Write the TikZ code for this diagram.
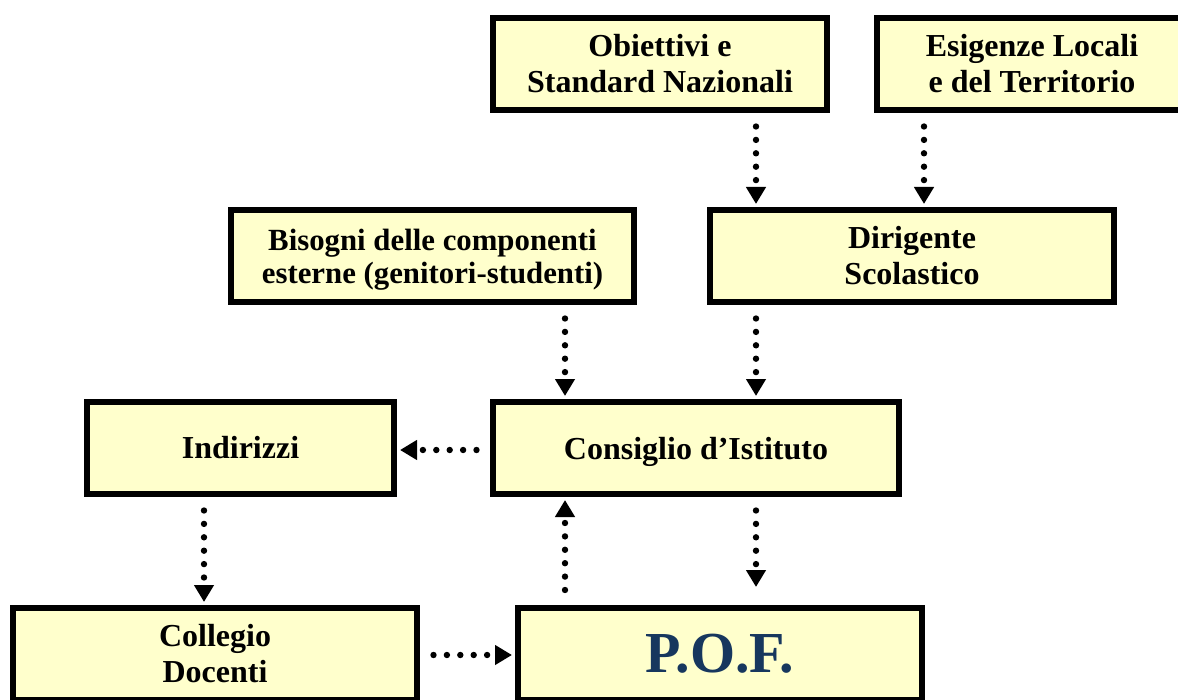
\documentclass[tikz,border=0pt]{standalone}
\usepackage{fontspec}
\setmainfont{Liberation Serif}
\usetikzlibrary{arrows.meta}

\definecolor{boxfill}{RGB}{255,255,204}
\definecolor{pofblue}{RGB}{23,55,94}

\tikzset{
  box/.style={draw, line width=3pt, fill=boxfill, minimum height=46pt,
    align=center, inner sep=2pt, font=\bfseries\fontsize{16}{18}\selectfont},
  flow/.style={line width=3.2pt, line cap=round, dash pattern=on 0pt off 6.7pt,
    -{Triangle[width=9.5pt,length=8.5pt]}, shorten <=6.75pt, shorten >=1.5pt},
}

\begin{document}
\begin{tikzpicture}[x=0.5pt, y=-0.5pt]
  \useasboundingbox (0,0) rectangle (1178,700);
  \clip (0,0) rectangle (1178,700);

  % top row
  \node[box, minimum width=167pt] (obj) at (660,64) {Obiettivi e\\Standard Nazionali};
  \node[box, minimum width=155pt] (esi) at (1032,64) {Esigenze Locali\\e del Territorio};
  % second row
  \node[box, minimum width=201.5pt, text depth=0pt, font=\bfseries\fontsize{15.4}{16.5}\selectfont]
    (bis) at (432.5,256) {Bisogni delle componenti\\esterne (genitori-studenti)};
  \node[box, minimum width=202pt] (dir) at (912,256) {Dirigente\\Scolastico};
  % third row
  \node[box, minimum width=153.5pt] (ind) at (240.5,448) {Indirizzi};
  \node[box, minimum width=203pt, text depth=0pt] (con) at (696,448) {Consiglio d’Istituto};
  % bottom row
  \node[box, minimum width=202pt] (col) at (215,654) {Collegio\\Docenti};
  \node[box, minimum width=202pt, text=pofblue, font=\bfseries\fontsize{29}{34}\selectfont]
    (pof) at (720,654) {P.O.F.};

  \draw[flow] ([xshift=48pt]obj.south) -- ([xshift=48pt]obj.south |- dir.north);
  \draw[flow] ([xshift=-54pt]esi.south) -- ([xshift=-54pt]esi.south |- dir.north);
  \draw[flow] ([xshift=66.25pt]bis.south) -- ([xshift=66.25pt]bis.south |- con.north);
  \draw[flow] ([xshift=-78pt]dir.south) -- ([xshift=-78pt]dir.south |- con.north);
  \draw[flow] ([yshift=-1pt]con.west) -- ([yshift=-1pt]con.west -| ind.east);
  \draw[flow] ([xshift=-18.25pt]ind.south) -- ([xshift=-18.25pt]ind.south |- col.north);
  \draw[flow, shorten >=9pt] ([xshift=30pt]con.south) -- ([xshift=30pt]con.south |- pof.north);
  \draw[flow, shorten <=7.5pt] ([xshift=-77.5pt]pof.north) -- ([xshift=-77.5pt]pof.north |- con.south);
  \draw[flow] ([yshift=-0.5pt]col.east) -- ([yshift=-0.5pt]col.east -| pof.west);
\end{tikzpicture}
\end{document}
